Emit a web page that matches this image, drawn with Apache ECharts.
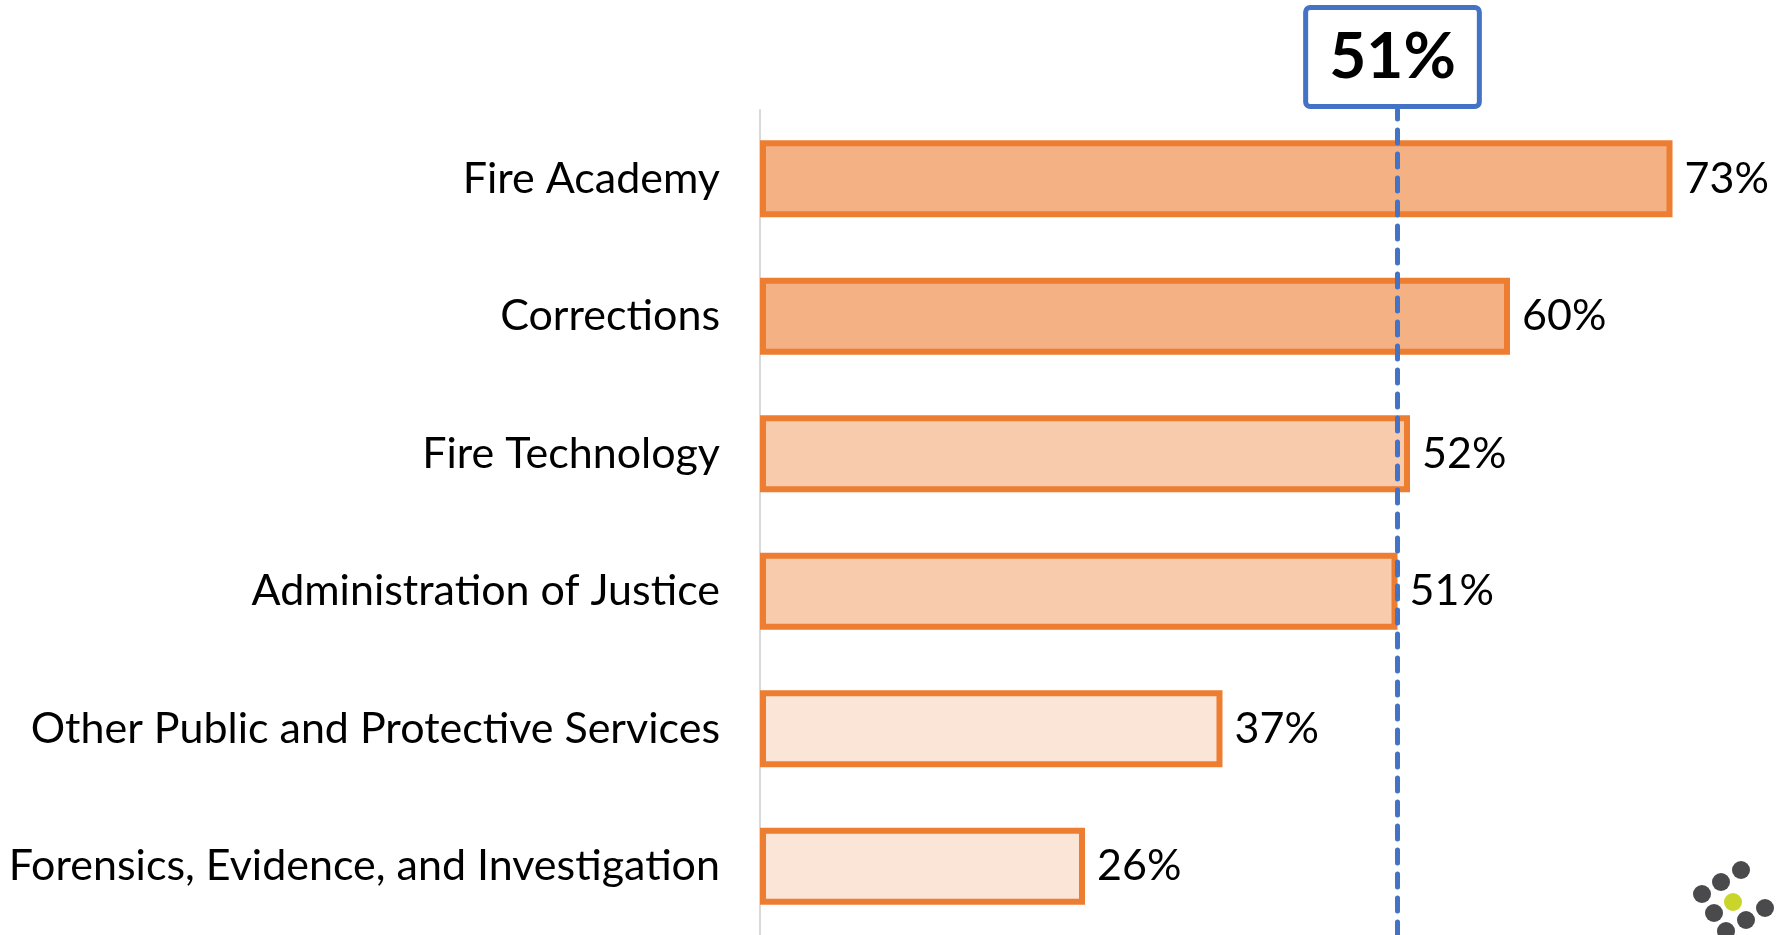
<!DOCTYPE html>
<html>
<head>
<meta charset="utf-8">
<script src="https://cdn.jsdelivr.net/npm/echarts@6/dist/echarts.min.js"></script>
<style>
  html, body { margin: 0; padding: 0; background: #fff; }
  #chart { width: 1788px; height: 935px; }
</style>
</head>
<body>
<div id="chart"></div>
<script>
// bottom-to-top order (category axis starts at the bottom)
const programs = [
  "Forensics, Evidence, and Investigation",
  "Other Public and Protective Services",
  "Administration of Justice",
  "Fire Technology",
  "Corrections",
  "Fire Academy"
];
const shares = [26, 37, 51, 52, 60, 73];
const average = 51;

// fill shade per bar, same order as programs
const fills = ["#FBE5D6", "#FBE5D6", "#F8CBAD", "#F8CBAD", "#F4B183", "#F4B183"];

const FONT = "Lato";

const chart = echarts.init(document.getElementById("chart"));

// logo dots in the lower right corner (decoration only)
const dots = [
  [1741, 870, "#4a4a4c"], [1721, 882, "#4a4a4c"], [1702, 894, "#4a4a4c"],
  [1733, 902, "#c9d52a"], [1714, 913, "#4a4a4c"], [1765, 908, "#4a4a4c"],
  [1746, 920, "#4a4a4c"], [1726, 931, "#4a4a4c"]
];

const option = {
  animation: false,
  grid: { left: 760, top: 110, width: 1000, height: 826 },
  xAxis: {
    type: "value",
    min: 0,
    max: 80,
    show: false
  },
  yAxis: {
    type: "category",
    data: programs,
    axisLine: { show: true, lineStyle: { color: "#d9d9d9", width: 2 } },
    axisTick: { show: false },
    axisLabel: {
      margin: 40,
      color: "#000",
      fontFamily: FONT,
      fontSize: 43
    }
  },
  series: [
    {
      type: "bar",
      barWidth: 77,
      data: shares.map((v, i) => ({ value: v, itemStyle: { color: fills[i] } })),
      itemStyle: { borderColor: "#ED7D31", borderWidth: 6 },
      label: {
        show: true,
        position: "right",
        distance: 12,
        formatter: "{c}%",
        color: "#000",
        fontFamily: FONT,
        fontSize: 43
      },
      markLine: {
        symbol: "none",
        silent: true,
        lineStyle: { color: "#4472C4", width: 5, type: [13, 11], cap: "round" },
        label: {
          show: true,
          position: "end",
          distance: 6,
          offset: [-5, 0],
          formatter: "{c}%",
          color: "#000",
          fontFamily: FONT,
          fontWeight: "bold",
          fontSize: 64,
          lineHeight: 64,
          backgroundColor: "#fff",
          borderColor: "#4472C4",
          borderWidth: 5,
          borderRadius: 2,
          padding: [15, 21]
        },
        data: [{ xAxis: average }]
      }
    }
  ],
  graphic: dots.map(([x, y, c]) => ({
    type: "circle",
    shape: { cx: x, cy: y, r: 9 },
    style: { fill: c }
  }))
};

chart.setOption(option);
</script>
</body>
</html>
